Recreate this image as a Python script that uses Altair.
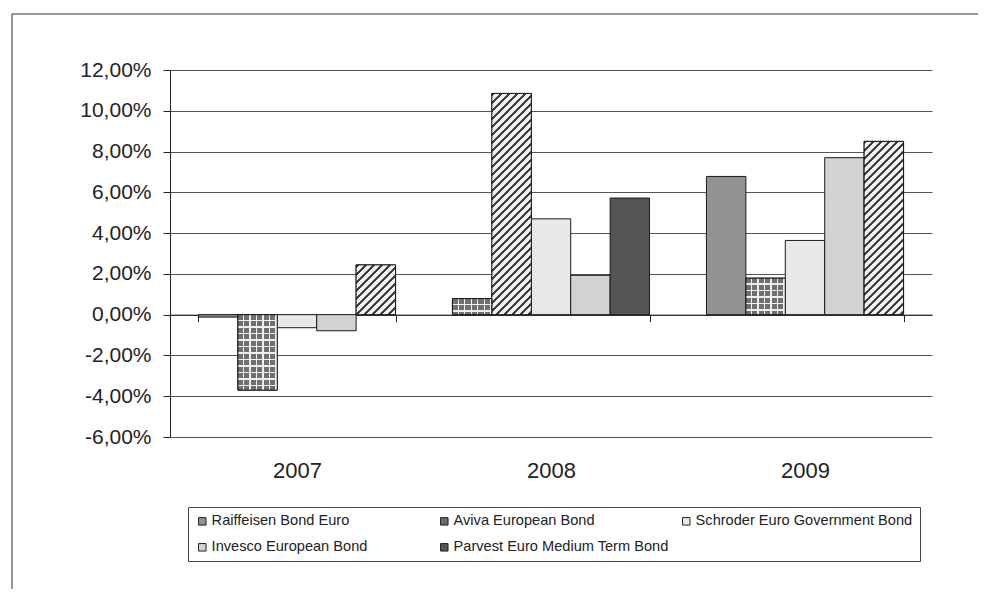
import altair as alt
import pandas as pd

# ---------------- data ----------------
years = ["2007", "2008", "2009"]
funds = [
    "Raiffeisen Bond Euro",
    "Aviva European Bond",
    "Schroder Euro Government Bond",
    "Invesco European Bond",
    "Parvest Euro Medium Term Bond",
]
raiffeisen = [-0.12, 0.79, 6.78]
aviva = [-3.70, 10.85, 1.79]
schroder = [-0.64, 4.70, 3.64]
invesco = [-0.79, 1.93, 7.70]
parvest = [2.44, 5.72, 8.50]
y_ticks = [-6, -4, -2, 0, 2, 4, 6, 8, 10, 12]

fund_colors = ["#939393", "#6b6b6b", "#e8e8e8", "#d2d2d2", "#555555"]

series = [raiffeisen, aviva, schroder, invesco, parvest]
rows = []
for f, vals in zip(funds, series):
    for y, v in zip(years, vals):
        rows.append({"Year": y, "Fund": f, "Value": v})
df = pd.DataFrame(rows)

# ---------------- layout ----------------
W, H = 762, 367
PAD_L, PAD_T, PAD_R, PAD_B = 162, 62, 46, 152
Y_MIN, Y_MAX = -6, 12
PX = H / (Y_MAX - Y_MIN)
P_INNER = 0.224
BAR_W = W / len(years) * (1 - P_INNER) / len(funds)
FONT = "Liberation Sans"
INK = "#222222"

x_enc = alt.X(
    "Year:N",
    sort=years,
    scale=alt.Scale(paddingInner=P_INNER, paddingOuter=P_INNER / 2),
    axis=alt.Axis(
        orient="bottom",
        offset=-(H * (0 - Y_MIN) / (Y_MAX - Y_MIN)),
        domainColor=INK,
        domainWidth=1,
        tickBand="extent",
        tickSize=7,
        tickColor=INK,
        labelFont=FONT,
        labelFontSize=22,
        labelColor=INK,
        labelPadding=139,
        labelAngle=0,
        grid=False,
        title=None,
    ),
)
xo_enc = alt.XOffset(
    "Fund:N", sort=funds,
    scale=alt.Scale(domain=funds, paddingInner=0, paddingOuter=0),
)
y_enc = alt.Y(
    "Value:Q",
    scale=alt.Scale(domain=[Y_MIN, Y_MAX], nice=False, zero=False),
    axis=alt.Axis(
        values=y_ticks,
        labelExpr="(datum.value < 0 ? '-' : '') + abs(datum.value) + ',00%'",
        grid=True,
        gridColor="#555555",
        gridWidth=1,
        domainColor=INK,
        tickColor=INK,
        tickSize=7,
        labelFont=FONT,
        labelFontSize=21,
        labelColor=INK,
        labelPadding=12,
        title=None,
    ),
)

base = alt.Chart(df).mark_bar(stroke="#1a1a1a", strokeWidth=1).encode(
    x=x_enc,
    xOffset=xo_enc,
    y=y_enc,
    color=alt.Color(
        "Fund:N",
        sort=funds,
        scale=alt.Scale(domain=funds, range=fund_colors),
        legend=alt.Legend(
            orient="none",
            legendX=18,
            legendY=437,
            columns=3,
            direction="horizontal",
            gridAlign="all",
            title=None,
            symbolType="square",
            symbolSize=56,
            symbolStrokeColor=INK,
            symbolStrokeWidth=1,
            labelFont=FONT,
            labelFontSize=14.6,
            labelColor=INK,
            labelOffset=2,
            labelLimit=0,
            strokeColor="#444444",
            padding=7,
            columnPadding=8,
            rowPadding=11,
        ),
    ),
)


def stops_for(n_float, frac, c_a, c_b):
    st = []
    i = 0
    while i < n_float:
        a = i / n_float
        b = min((i + frac) / n_float, 1.0)
        c = min((i + 1) / n_float, 1.0)
        st += [
            alt.GradientStop(offset=round(a, 5), color=c_a),
            alt.GradientStop(offset=round(b, 5), color=c_a),
            alt.GradientStop(offset=round(b, 5), color=c_b),
            alt.GradientStop(offset=round(c, 5), color=c_b),
        ]
        i += 1
    return st


def hatch_grad(h, w, period=8.0, frac=0.42):
    k = (w + h) / (w * w + h * h)
    n = (w + h) / period
    return alt.Gradient(
        gradient="linear",
        x1=0, y1=0, x2=round(k * w, 5), y2=round(k * h, 5),
        stops=stops_for(n, frac, "#404040", "#f2f2f2"),
    )


def rows_grad(h, period=6.5, frac=0.78):
    n = max(h / period, 1.0)
    return alt.Gradient(
        gradient="linear", x1=0, y1=0, x2=0, y2=1,
        stops=stops_for(n, frac, "#707070", "#eeeeee"),
    )


def cols_grad(w, period=6.5, frac=0.78):
    n = w / period
    return alt.Gradient(
        gradient="linear", x1=0, y1=0, x2=1, y2=0,
        stops=stops_for(n, frac, "rgba(238,238,238,0)", "rgba(238,238,238,1)"),
    )


layers = [base]
for yi, yr in enumerate(years):
    vals = [s[yi] for s in series]
    imax = max(range(len(vals)), key=lambda i: vals[i])
    imin = min(range(len(vals)), key=lambda i: vals[i])
    # hatched = best of the year
    hmax = abs(vals[imax]) * PX
    flt = f"datum.Year == '{yr}' && datum.Fund == '{funds[imax]}'"
    layers.append(
        alt.Chart(df).transform_filter(flt)
        .mark_bar(fill=hatch_grad(hmax, BAR_W), stroke="#1a1a1a", strokeWidth=1)
        .encode(x=x_enc, xOffset=xo_enc, y=y_enc)
    )
    # dotted = worst of the year
    hmin = abs(vals[imin]) * PX
    flt = f"datum.Year == '{yr}' && datum.Fund == '{funds[imin]}'"
    layers.append(
        alt.Chart(df).transform_filter(flt)
        .mark_bar(fill=rows_grad(hmin), strokeWidth=0)
        .encode(x=x_enc, xOffset=xo_enc, y=y_enc)
    )
    layers.append(
        alt.Chart(df).transform_filter(flt)
        .mark_bar(fill=cols_grad(BAR_W), stroke="#1a1a1a", strokeWidth=1)
        .encode(x=x_enc, xOffset=xo_enc, y=y_enc)
    )

# outer frame of the figure: only top and left edges are inside the picture
one = pd.DataFrame({"k": [0]})
frame_top = alt.Chart(one).mark_rule(color="#333333", strokeWidth=1).encode(
    x=alt.value(12 - 8 - PAD_L),
    x2=alt.value(W + PAD_R),
    y=alt.value(14 - 8 - PAD_T),
)
frame_left = alt.Chart(one).mark_rule(color="#333333", strokeWidth=1).encode(
    x=alt.value(12 - 8 - PAD_L),
    y=alt.value(14 - 8 - PAD_T),
    y2=alt.value(H + PAD_B),
)
layers += [frame_top, frame_left]

chart = (
    alt.layer(*layers)
    .properties(
        width=W,
        height=H,
        autosize=alt.AutoSizeParams(type="none"),
        padding={"left": PAD_L, "top": PAD_T, "right": PAD_R, "bottom": PAD_B},
    )
    .configure_view(strokeWidth=0)
)

chart.save("out.html", embed_options={"renderer": "svg", "actions": False})
